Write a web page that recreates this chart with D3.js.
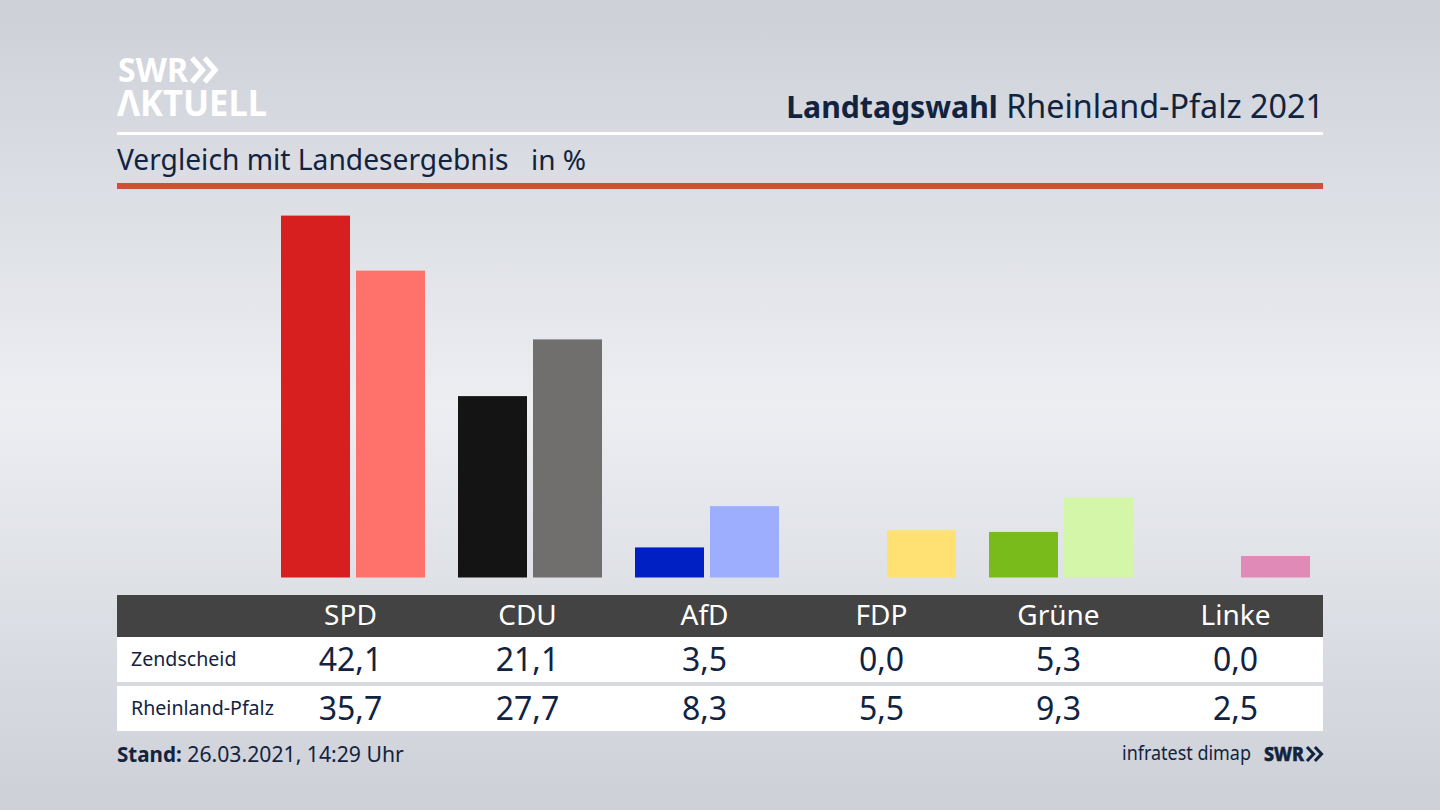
<!DOCTYPE html>
<html>
<head>
<meta charset="utf-8">
<script src="https://cdn.jsdelivr.net/npm/d3@7"></script>
<style>
  html, body { margin: 0; padding: 0; background: #dfe1e6; }
  svg { display: block; }
  text { font-family: "Noto Sans", sans-serif; }
</style>
</head>
<body>
<script>
const parties = ["SPD", "CDU", "AfD", "FDP", "Grüne", "Linke"];
const zendscheid = [42.1, 21.1, 3.5, 0.0, 5.3, 0.0];
const landesergebnis = [35.7, 27.7, 8.3, 5.5, 9.3, 2.5];
const zendColors = ["#d81f1f", "#141414", "#0020c4", "#f5d800", "#78bb1b", "#c0208a"];
const landColors = ["#ff726c", "#706f6d", "#9eaeff", "#ffe173", "#d4f6a8", "#e08ab8"];
const rowNames = ["Zendscheid", "Rheinland-Pfalz"];

const ink = "#12233f";
const fmt = v => v.toFixed(1).replace(".", ",");

const svg = d3.select("body").append("svg").attr("width", 1440).attr("height", 810);

// background
const defs = svg.append("defs");
const bg = defs.append("linearGradient").attr("id", "bg").attr("x1", 0).attr("x2", 0).attr("y1", 0).attr("y2", 1);
bg.append("stop").attr("offset", "0%").attr("stop-color", "#cdd0d7");
bg.append("stop").attr("offset", "50%").attr("stop-color", "#eceef2");
bg.append("stop").attr("offset", "100%").attr("stop-color", "#cdd0d7");
svg.append("rect").attr("width", 1440).attr("height", 810).attr("fill", "url(#bg)");

// scales
const x = d3.scaleBand().domain(parties).range([262, 1324]).padding(0);
const y = d3.scaleLinear().domain([0, 42.1]).range([577.5, 215.6]);
const barW = 69;
const center = d => x(d) + x.bandwidth() / 2;

// header
function chevrons(g, cx, cy, h, w, color) {
  [0, 1].forEach(i => {
    g.append("path")
      .attr("d", `M${cx + i * w * 0.9},${cy - h / 2}L${cx + i * w * 0.9 + w * 0.75},${cy}L${cx + i * w * 0.9},${cy + h / 2}`)
      .attr("fill", "none").attr("stroke", color).attr("stroke-width", h * 0.22);
  });
}

svg.append("text").attr("x", 118).attr("y", 81.5).attr("fill", "#fff")
  .attr("font-size", 33.6).attr("font-weight", 700).attr("textLength", 70).attr("lengthAdjust", "spacingAndGlyphs").text("SWR");
chevrons(svg, 192, 70, 24, 14, "#fff");
svg.append("text").attr("x", 117).attr("y", 116).attr("fill", "#fff")
  .attr("font-size", 36.4).attr("font-weight", 700).attr("textLength", 150).attr("lengthAdjust", "spacingAndGlyphs").text("ΛKTUELL");

const title = svg.append("text").attr("x", 1324).attr("y", 118).attr("text-anchor", "end").attr("fill", ink);
title.append("tspan").attr("font-weight", 700).attr("font-size", 30.2).text("Landtagswahl");
title.append("tspan").attr("font-size", 32.3).text(" Rheinland-Pfalz 2021");

svg.append("rect").attr("x", 117).attr("y", 132).attr("width", 1206).attr("height", 3).attr("fill", "#fff");
svg.append("text").attr("x", 117).attr("y", 170).attr("fill", ink).attr("font-size", 28.2).text("Vergleich mit Landesergebnis");
svg.append("text").attr("x", 531).attr("y", 170).attr("fill", ink).attr("font-size", 28).text("in %");
svg.append("rect").attr("x", 117).attr("y", 183).attr("width", 1206).attr("height", 6).attr("fill", "#cb5239");

// bars
svg.append("g").selectAll("rect").data(parties).join("rect")
  .attr("x", d => center(d) - 69.5)
  .attr("y", (d, i) => y(zendscheid[i]))
  .attr("width", barW)
  .attr("height", (d, i) => y(0) - y(zendscheid[i]))
  .attr("fill", (d, i) => zendColors[i]);

svg.append("g").selectAll("rect").data(parties).join("rect")
  .attr("x", d => center(d) + 5.5)
  .attr("y", (d, i) => y(landesergebnis[i]))
  .attr("width", barW)
  .attr("height", (d, i) => y(0) - y(landesergebnis[i]))
  .attr("fill", (d, i) => landColors[i]);

// table
svg.append("rect").attr("x", 117).attr("y", 595).attr("width", 1206).attr("height", 42).attr("fill", "#434343");
svg.append("rect").attr("x", 117).attr("y", 637).attr("width", 1206).attr("height", 45).attr("fill", "#fff");
svg.append("rect").attr("x", 117).attr("y", 686).attr("width", 1206).attr("height", 45).attr("fill", "#fff");

svg.append("g").selectAll("text").data(parties).join("text")
  .attr("x", center).attr("y", 625).attr("text-anchor", "middle")
  .attr("fill", "#fff").attr("font-size", 28).text(d => d);

[zendscheid, landesergebnis].forEach((vals, r) => {
  const base = 671 + r * 49;
  svg.append("text").attr("x", 131).attr("y", base - 5).attr("fill", ink).attr("font-size", 19.6).text(rowNames[r]);
  svg.append("g").selectAll("text").data(vals).join("text")
    .attr("x", (d, i) => center(parties[i])).attr("y", base).attr("text-anchor", "middle")
    .attr("fill", ink).attr("font-size", 32).text(fmt);
});

// footer
const stand = svg.append("text").attr("x", 117).attr("y", 762).attr("fill", ink);
stand.append("tspan").attr("font-weight", 700).attr("font-size", 20.6).text("Stand:");
stand.append("tspan").attr("font-size", 21.2).text(" 26.03.2021, 14:29 Uhr");

svg.append("text").attr("x", 1122).attr("y", 760).attr("fill", ink).attr("font-size", 20)
  .attr("textLength", 129).attr("lengthAdjust", "spacingAndGlyphs").text("infratest dimap");
svg.append("text").attr("x", 1264).attr("y", 761).attr("fill", ink).attr("stroke", ink).attr("stroke-width", 0.5)
  .attr("font-size", 19.6).attr("font-weight", 800)
  .attr("textLength", 40).attr("lengthAdjust", "spacingAndGlyphs").text("SWR");
chevrons(svg, 1307, 754, 14, 8.8, ink);
</script>
</body>
</html>
